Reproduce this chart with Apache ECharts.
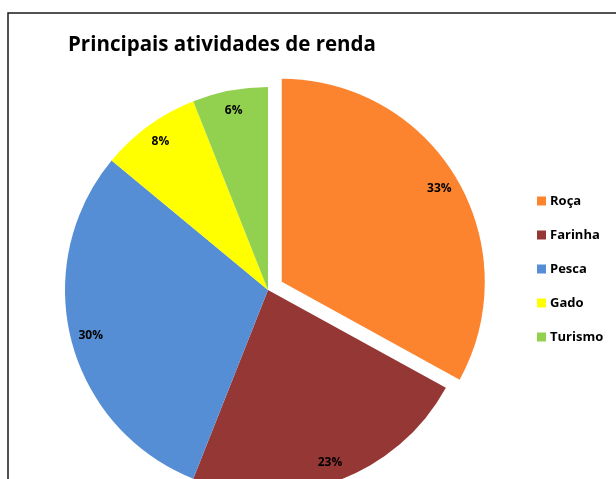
<!DOCTYPE html>
<html>
<head>
    <meta charset="utf-8">
    <script type="text/javascript" src="https://cdn.jsdelivr.net/npm/echarts@6/dist/echarts.min.js"></script>
    <title>Principais atividades de renda</title>
    <style>
        html, body { margin: 0; padding: 0; background: #fff; }
    </style>
</head>
<body>
    <div id="container" style="width:616px;height:479px;"></div>
    <script type="text/javascript">
    // dados do gráfico
    var categorias = ['Roça', 'Farinha', 'Pesca', 'Gado', 'Turismo'];
    var valores = [33, 23, 30, 8, 6];
    var cores = ['#FD842F', '#953735', '#558ED5', '#FFFF00', '#92D050'];

    var myChart = echarts.init(document.getElementById('container'));

    var dadosPizza = categorias.map(function (nome, i) {
        return { name: nome, value: valores[i], selected: i === 0, itemStyle: { color: cores[i] } };
    });
    var dadosRotulo = categorias.map(function (nome, i) {
        return { name: nome, value: valores[i], selected: i === 0 };
    });

    var fonte = '"Open Sans", sans-serif';

    var option = {
        backgroundColor: '#fff',
        animation: false,
        title: {
            text: 'Principais atividades de renda',
            left: 63,
            top: 30,
            textStyle: { fontFamily: fonte, fontSize: 20.5, fontWeight: 'bold', color: '#000' }
        },
        legend: {
            orient: 'vertical',
            left: 537,
            top: 194,
            padding: 0,
            itemWidth: 9,
            itemHeight: 9,
            itemGap: 20,
            selectedMode: false,
            data: categorias.map(function (nome, i) {
                return { name: nome, icon: 'rect', itemStyle: { color: cores[i] } };
            }),
            textStyle: { fontFamily: fonte, fontSize: 13, fontWeight: 'bold', color: '#000', lineHeight: 14, padding: [0, 0, 0, -1] }
        },
        graphic: [{
            type: 'rect',
            shape: { x: 8, y: 13, width: 620, height: 480 },
            style: { fill: null, stroke: '#1a1a1a', lineWidth: 1.5 },
            silent: true
        }],
        series: [{
            name: 'Renda',
            type: 'pie',
            center: [268, 290],
            radius: [0, 203],
            startAngle: 90,
            clockwise: true,
            selectedMode: 'single',
            selectedOffset: 16,
            silent: true,
            label: { show: false },
            labelLine: { show: false },
            emphasis: { disabled: true },
            data: dadosPizza
        }, {
            name: 'Rótulos',
            type: 'pie',
            center: [268, 290],
            radius: [158, 202],
            startAngle: 90,
            clockwise: true,
            selectedMode: 'single',
            selectedOffset: 16,
            silent: true,
            legendHoverLink: false,
            itemStyle: { color: 'rgba(0,0,0,0)' },
            label: {
                show: true,
                position: 'inside',
                formatter: '{d}%',
                fontFamily: fonte,
                fontSize: 12,
                fontWeight: 'bold',
                color: '#000'
            },
            labelLine: { show: false },
            emphasis: { disabled: true },
            data: dadosRotulo
        }]
    };

    myChart.setOption(option);
    </script>
</body>
</html>
